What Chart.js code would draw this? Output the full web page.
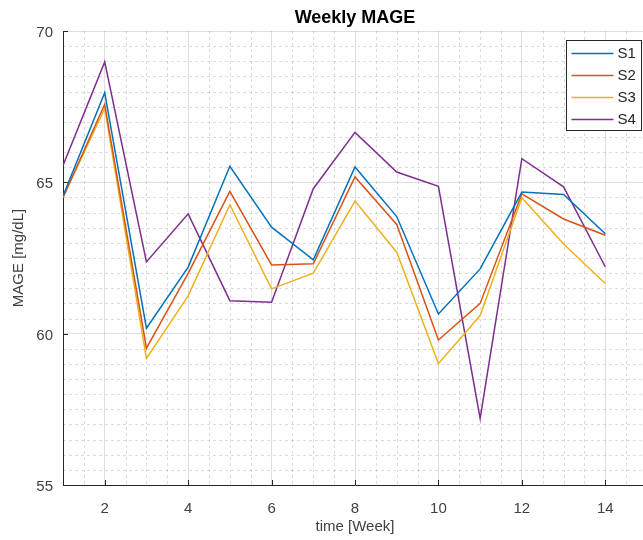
<!DOCTYPE html>
<html>
<head>
<meta charset="utf-8">
<script src="https://cdn.jsdelivr.net/npm/chart.js@4.4.1/dist/chart.umd.min.js"></script>
<style>
  html, body { margin: 0; padding: 0; background: #fff; }
  #wrap { width: 643px; height: 540px; overflow: hidden; }
</style>
</head>
<body>
<div id="wrap"><canvas id="mageChart" width="660" height="540"></canvas></div>
<script>
// weeks and weekly MAGE values
const weeks = [1, 2, 3, 4, 5, 6, 7, 8, 9, 10, 11, 12, 13, 14];
const s1 = [64.55, 67.96, 60.18, 62.2, 65.53, 63.52, 62.44, 65.51, 63.87, 60.65, 62.14, 64.68, 64.6, 63.3];
const s2 = [64.5, 67.58, 59.52, 61.99, 64.7, 62.27, 62.31, 65.18, 63.61, 59.79, 61.0, 64.62, 63.79, 63.25];
const s3 = [64.5, 67.44, 59.18, 61.25, 64.26, 61.48, 62.0, 64.38, 62.69, 59.01, 60.6, 64.49, 62.96, 61.66];
const s4 = [65.56, 68.98, 62.37, 63.96, 61.09, 61.04, 64.79, 66.65, 65.34, 64.87, 57.2, 65.78, 64.85, 62.21];

const seriesNames = ['S1', 'S2', 'S3', 'S4'];
const xTickValues = [2, 4, 6, 8, 10, 12, 14];
const yTickValues = [55, 60, 65, 70];

const colors = ['#0072BD', '#D95319', '#EDB120', '#7E2F8E'];
const FONT = 'Arial, "Liberation Sans", Helvetica, sans-serif';
const AXIS_COLOR = '#262626';

function toPoints(values) {
    return weeks.map((w, i) => ({ x: w, y: values[i] }));
}

// minor dotted grid + inward tick marks, like MATLAB
const matlabGrid = {
    id: 'matlabGrid',
    beforeDatasetsDraw(chart) {
        const { ctx, chartArea: a, scales: { x, y } } = chart;
        ctx.save();
        ctx.strokeStyle = 'rgba(38,38,38,0.16)';
        ctx.lineWidth = 1;
        ctx.setLineDash([3, 3]);
        for (let v = x.min + 0.5; v < x.max; v += 0.5) {
            if (xTickValues.includes(v)) continue;
            const px = Math.round(x.getPixelForValue(v)) + 0.5;
            ctx.beginPath();
            ctx.moveTo(px, a.top);
            ctx.lineTo(px, a.bottom);
            ctx.stroke();
        }
        for (let v = y.min + 0.5; v < y.max; v += 0.5) {
            if (yTickValues.includes(v)) continue;
            const py = Math.round(y.getPixelForValue(v)) + 0.5;
            ctx.beginPath();
            ctx.moveTo(a.left, py);
            ctx.lineTo(a.right, py);
            ctx.stroke();
        }
        ctx.restore();
    },
    afterDraw(chart) {
        const { ctx, chartArea: a, scales: { x, y } } = chart;
        ctx.save();
        ctx.strokeStyle = AXIS_COLOR;
        ctx.lineWidth = 1;
        xTickValues.forEach(v => {
            const px = Math.round(x.getPixelForValue(v)) + 0.5;
            ctx.beginPath();
            ctx.moveTo(px, a.bottom);
            ctx.lineTo(px, a.bottom - 5);
            ctx.stroke();
        });
        yTickValues.forEach(v => {
            const py = Math.round(y.getPixelForValue(v)) + 0.5;
            ctx.beginPath();
            ctx.moveTo(a.left, py);
            ctx.lineTo(a.left + 5, py);
            ctx.stroke();
        });

        // legend box in the upper right corner
        const boxW = 75, boxH = 90, rowH = 22;
        const left = Math.round(a.right - 6 - boxW) + 0.5;
        const top = Math.round(a.top + 9) + 0.5;
        ctx.fillStyle = '#fff';
        ctx.fillRect(left, top, boxW, boxH);
        ctx.strokeRect(left, top, boxW, boxH);
        ctx.font = '15px ' + FONT;
        ctx.textBaseline = 'middle';
        chart.data.datasets.forEach((ds, i) => {
            const cy = top + 13 + i * rowH;
            ctx.strokeStyle = ds.borderColor;
            ctx.lineWidth = 1.5;
            ctx.beginPath();
            ctx.moveTo(left + 5, cy);
            ctx.lineTo(left + 47, cy);
            ctx.stroke();
            ctx.fillStyle = AXIS_COLOR;
            ctx.fillText(ds.label, left + 51, cy);
        });
        ctx.restore();
    }
};

const datasets = [s1, s2, s3, s4].map((vals, i) => ({
    label: seriesNames[i],
    data: toPoints(vals),
    borderColor: colors[i],
    backgroundColor: colors[i],
    borderWidth: 1.5,
    pointRadius: 0,
    tension: 0,
    fill: false
}));

new Chart(document.getElementById('mageChart').getContext('2d'), {
    type: 'line',
    data: { datasets: datasets },
    options: {
        responsive: false,
        animation: false,
        layout: { padding: { right: 13 } },
        plugins: {
            legend: { display: false },
            tooltip: { enabled: false },
            title: {
                display: true,
                text: 'Weekly MAGE',
                fullSize: false,
                color: '#000',
                font: { family: FONT, size: 18, weight: 'bold', lineHeight: 1.2 },
                padding: { top: 7.7, bottom: 1.7 }
            }
        },
        scales: {
            x: {
                type: 'linear',
                min: 1,
                max: 15,
                afterBuildTicks: s => { s.ticks = xTickValues.map(v => ({ value: v })); },
                afterFit: s => { s.height = 55; },
                grid: { color: 'rgba(38,38,38,0.15)', drawTicks: false },
                border: { color: AXIS_COLOR, width: 1 },
                ticks: { padding: 15, maxRotation: 0, autoSkip: false, color: '#404040', font: { family: FONT, size: 15 } },
                title: { display: true, text: 'time [Week]', color: '#404040', font: { family: FONT, size: 15, lineHeight: 1.2 }, padding: { top: 0, bottom: 4 } }
            },
            y: {
                min: 55,
                max: 70,
                afterBuildTicks: s => { s.ticks = yTickValues.map(v => ({ value: v })); },
                afterFit: s => { s.width = 63; },
                grid: { color: 'rgba(38,38,38,0.15)', drawTicks: false },
                border: { color: AXIS_COLOR, width: 1 },
                ticks: { padding: 10, labelOffset: 2, color: '#404040', font: { family: FONT, size: 15 } },
                title: { display: true, text: 'MAGE [mg/dL]', color: '#404040', font: { family: FONT, size: 15, lineHeight: 1.2 }, padding: { top: 10, bottom: 0 } }
            }
        }
    },
    plugins: [matlabGrid]
});
</script>
</body>
</html>
